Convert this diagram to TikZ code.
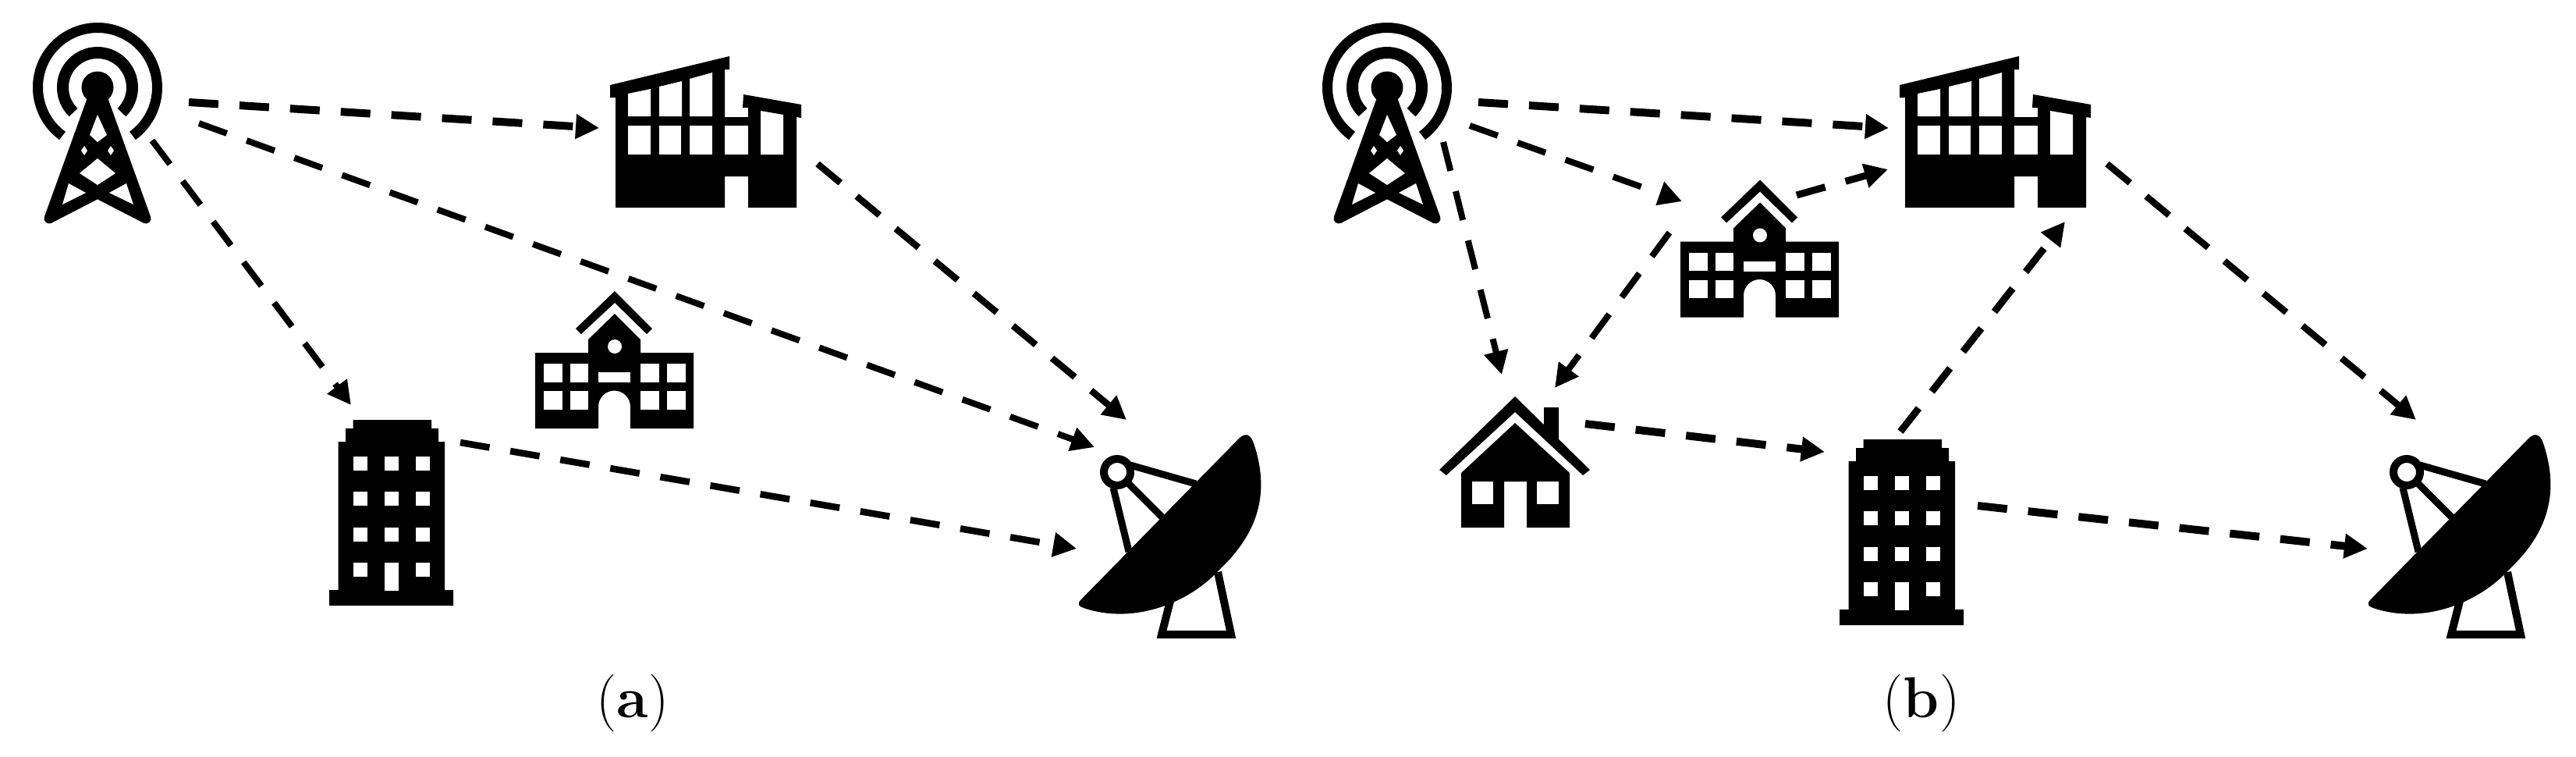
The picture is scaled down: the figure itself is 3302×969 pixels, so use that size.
\documentclass[tikz,border=0pt]{standalone}
\usepackage{tikz}
\usetikzlibrary{arrows.meta}

\tikzset{
    link/.style={dash pattern=on 0.38cm off 0.27cm, -{Triangle[length=0.3cm,width=0.3cm]}},
    caption/.style={font=\fontsize{21}{25}\selectfont, inner sep=0pt, anchor=base},
    % the icons, all in pixel units
    tower/.pic={
        \draw[line width=0.13cm] (125,112) ++(126:76.5) arc[start angle=126, end angle=414, radius=76.5];
        \draw[line width=0.15cm] (125,112) ++(134:44.5) arc[start angle=134, end angle=406, radius=44.5];
        \fill (125,112) circle[radius=20.5];
        \draw[line width=0.13cm, line join=round, fill=black] (119,125) -- (63,280) -- (125,248) -- (187,280) -- (131,125) -- cycle;
        % holes of the lattice
        \fill[white] (125,147) -- (115,173) -- (125,182) -- (137,173) -- cycle;
        \fill[white] (108,187) -- (112,193) -- (108,199) -- (104,193) -- cycle;
        \fill[white] (142,187) -- (146,193) -- (142,199) -- (138,193) -- cycle;
        \fill[white] (125,203) -- (148,222) -- (125,237) -- (102,222) -- cycle;
        \fill[white] (88,235) -- (110,247) -- (80,262) -- cycle;
        \fill[white] (162,235) -- (140,247) -- (171,262) -- cycle;
    },
    factory/.pic={
        \fill (789,125) -- (782,125) -- (782,109) -- (935,72) -- (935,89) -- (929,89) -- (929,150) -- (959,150)
            -- (959,138) -- (952,138) -- (953,121) -- (1027,134) -- (1027,151) -- (1021,150) -- (1021,266)
            -- (959,266) -- (959,226) -- (929,226) -- (929,266) -- (789,266) -- cycle;
        % lower row of windows
        \foreach \x/\w in {805/29, 845/28, 884/29, 929/30, 975/29} {
            \fill[white] (\x,161) rectangle ++(\w,37);
        }
        % upper row of windows, under the sloped roofs
        \foreach \x/\l/\r in {805/120/114, 845/111/104, 884/101/93} {
            \fill[white] (\x,149) -- (\x,\l) -- ({\x+29},\r) -- ({\x+29},149) -- cycle;
        }
        \fill[white] (975,198) -- (975,142) -- (1004,147) -- (1004,198) -- cycle;
    },
    school/.pic={
        \fill (738,421) -- (788,373) -- (836,421) -- (829,428) -- (788,388) -- (745,428) -- cycle;
        \fill (788,402) -- (821,435) -- (821,452) -- (889,452) -- (889,549) -- (808,549) -- (808,521)
            arc[start angle=0, end angle=-180, radius=20.5] -- (767,549) -- (686,549) -- (686,452)
            -- (754,452) -- (754,435) -- cycle;
        \fill[white] (788,444) circle[radius=9];
        \fill[white] (767,477) rectangle (808,490);
        \foreach \x in {697, 730.5, 821, 855} {
            \foreach \y in {466, 501} {
                \fill[white] (\x,\y) rectangle ++(23.5,23.5);
            }
        }
    },
    apartment/.pic={
        \fill (452.5,538) -- (553,538) -- (553,549) -- (562,549) -- (562,566) -- (570,566) -- (570,756)
            -- (581,756) -- (581,776) -- (422,776) -- (422,756) -- (433.5,756) -- (433.5,566) -- (443,566)
            -- (443,549) -- (452.5,549) -- cycle;
        \foreach \x in {453, 493, 533} {
            \foreach \y in {585, 630, 676, 721} {
                \fill[white] (\x,\y) rectangle ++(18,18);
            }
        }
        \fill[white] (493,721) rectangle (511,757);
    },
    house/.pic={
        \fill (1979,522) -- (1998,522) -- (1998,570) -- (1979,552) -- cycle;
        \fill (1845,602) -- (1942,508) -- (2038,602) -- (2029,609) -- (1942,528) -- (1854,609) -- cycle;
        \fill (1942,542) -- (2012,606) -- (2012,676) -- (1957,676) -- (1957,617) -- (1928,617) -- (1928,676)
            -- (1873,676) -- (1873,606) -- cycle;
        \fill[white] (1887,617) rectangle (1914,646);
        \fill[white] (1970,617) rectangle (1998,646);
    },
    dish/.pic={
        \fill (1386,768) -- (1588,562) .. controls (1596,554) and (1603,556) .. (1607,568)
            .. controls (1628,630) and (1614,682) .. (1563,730)
            .. controls (1525,772) and (1455,800) .. (1392,780)
            .. controls (1382,777) and (1380,774) .. (1386,768) -- cycle;
        \draw[line width=0.09cm] (1449,596) -- (1533,620);
        \draw[line width=0.09cm] (1447,620) -- (1490,663);
        \draw[line width=0.09cm] (1427,625) -- (1447,707);
        \draw[line width=0.1cm, fill=white] (1432,605) circle[radius=17];
        \draw[line width=0.1cm] (1500,770) -- (1489,813) -- (1578,813) -- (1561,733);
    }
}

\begin{document}
\begin{tikzpicture}[x=0.01cm, y=-0.01cm]
    \useasboundingbox (0,0) rectangle (3302,969);

    % Panel (a)
    \pic (towerA) at (0,0) {tower};
    \pic (factoryA) at (0,0) {factory};
    \pic (schoolA) at (0,0) {school};
    \pic (apartmentA) at (0,0) {apartment};
    \pic (dishA) at (0,0) {dish};

    % Panel (b)
    \pic (towerB) at (1653,0) {tower};
    \pic (factoryB) at (1653,0) {factory};
    \pic (schoolB) at (1468,-142.5) {school};
    \pic (apartmentB) at (1936,25) {apartment};
    \pic (houseB) at (0,0) {house};
    \pic (dishB) at (1653,0) {dish};

    % Connector ends
    \foreach \name/\x/\y in {
        towerAright/242/131, factoryAleft/768/164,
        towerAmid/255/158, dishAtop/1403/573,
        towerAlow/195/180, apartmentAtop/450/519,
        factoryAlow/1048/210, dishAup/1444/538,
        apartmentAright/590/567, dishAleft/1380/703,
        towerBright/1895/131, factoryBleft/2421/164,
        towerBmid/1884/161, schoolBleft/2156/258,
        towerBlow/1850/182, houseBtop/1925/480,
        schoolBlow/2140/298, houseBup/1993/497,
        schoolBtop/2303/250, factoryBwest/2420/217,
        houseBright/2032/543, apartmentBleft/2339/579,
        apartmentBtop/2436/553, factoryBbottom/2647/284,
        factoryBlow/2701/210, dishBup/3097/538,
        apartmentBright/2535/648, dishBleft/3035/703} {
        \coordinate (\name) at (\x,\y);
    }

    % Draw the links of both panels, the last field is the line width
    \foreach \from/\to/\wd in {
        towerAright/factoryAleft/0.1, towerAmid/dishAtop/0.08, towerAlow/apartmentAtop/0.08,
        factoryAlow/dishAup/0.085, apartmentAright/dishAleft/0.085,
        towerBright/factoryBleft/0.1, towerBmid/schoolBleft/0.08, towerBlow/houseBtop/0.08,
        schoolBlow/houseBup/0.08, schoolBtop/factoryBwest/0.09, houseBright/apartmentBleft/0.1,
        apartmentBtop/factoryBbottom/0.09, factoryBlow/dishBup/0.085, apartmentBright/dishBleft/0.1} {
        \draw[link, line width=\wd cm] (\from) -- (\to);
    }

    % Captions
    \node[caption] (captionA) at (811,919) {(\textbf{a})};
    \node[caption] (captionB) at (2463,919) {(\textbf{b})};
\end{tikzpicture}
\end{document}
